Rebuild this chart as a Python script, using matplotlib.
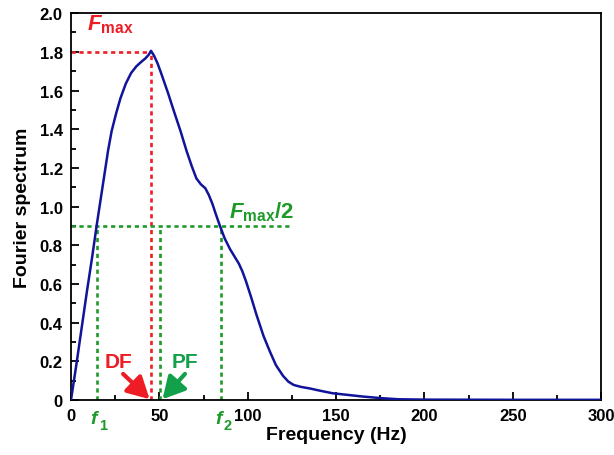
import matplotlib
matplotlib.use('Agg')
import matplotlib.pyplot as plt
from matplotlib.patches import FancyArrowPatch
from matplotlib.ticker import MultipleLocator, FuncFormatter

plt.rcParams['font.family'] = ['Liberation Sans', 'DejaVu Sans']
plt.rcParams['mathtext.fontset'] = 'custom'
plt.rcParams['mathtext.rm'] = 'Liberation Sans:weight=bold'
plt.rcParams['mathtext.it'] = 'Liberation Sans:style=italic:weight=bold'
plt.rcParams['mathtext.bf'] = 'Liberation Sans:weight=bold'

# spectrum
freq = [0, 3, 6, 9, 12, 14.5, 17, 19, 21, 23, 25.5, 28, 31, 34, 37, 40, 42,
        44, 45.3, 47, 49, 51, 55, 58, 62, 65.5, 68.5, 71, 73.5, 76, 78, 80,
        82, 84.3, 87, 90, 93, 95, 97, 99, 102, 105, 109, 112.6, 116, 120, 123,
        126, 130, 135, 141, 148, 155, 165, 175, 185, 200, 250, 300]
spec = [0, 0.18, 0.37, 0.56, 0.74, 0.90, 1.05, 1.17, 1.29, 1.39, 1.48, 1.56,
        1.635, 1.69, 1.725, 1.75, 1.765, 1.785, 1.805, 1.78, 1.74, 1.69,
        1.585, 1.50, 1.39, 1.285, 1.205, 1.145, 1.115, 1.095, 1.06, 1.015,
        0.96, 0.90, 0.835, 0.78, 0.735, 0.705, 0.665, 0.615, 0.53, 0.44,
        0.33, 0.25, 0.18, 0.125, 0.095, 0.078, 0.068, 0.06, 0.048, 0.035,
        0.028, 0.018, 0.01, 0.004, 0.002, 0.001, 0.001]

f_max = 1.8
df = 45.3      # dominant frequency
pf = 50.5      # predominant frequency
f1, f2 = 14.5, 85.0
half_end = 125

RED = '#ee1c24'
GREEN = '#1e9a28'
GREEN2 = '#12a04a'
BLUE = '#10149a'

fig = plt.figure(figsize=(6.14, 4.56), dpi=100)
ax = fig.add_axes([0.1156, 0.1206, 0.8634, 0.8484])

ax.plot(freq, spec, color=BLUE, lw=1.8, zorder=3, solid_joinstyle='round')

dash = dict(lw=1.9, linestyle=(0, (1.6, 1.4)))
ax.plot([0, df], [f_max, f_max], color=RED, **dash)
ax.plot([df, df], [0, f_max], color=RED, **dash)
ax.plot([0, half_end], [f_max / 2, f_max / 2], color=GREEN, **dash)
for xv in (f1, pf, f2):
    ax.plot([xv, xv], [0, f_max / 2], color=GREEN, **dash)

ax.text(22, 1.945, r'$\mathit{F}_{\mathrm{max}}$', color=RED, fontsize=16,
        ha='center', va='center')
ax.text(108, 0.975, r'$\mathit{F}_{\mathrm{max}}/2$', color=GREEN, fontsize=16,
        ha='center', va='center')

ax.text(27, 0.2, 'DF', color=RED, fontsize=15, fontweight='bold',
        ha='center', va='center')
ax.text(64.5, 0.2, 'PF', color=GREEN2, fontsize=15, fontweight='bold',
        ha='center', va='center')
for start, end, col in (((29.5, 0.135), (44.5, 0.004), RED),
                        ((64.5, 0.135), (51.8, 0.004), GREEN2)):
    ax.add_patch(FancyArrowPatch(start, end, color=col, lw=3,
                                 arrowstyle='-|>,head_length=1.2,head_width=0.65',
                                 mutation_scale=11, shrinkA=0, shrinkB=0, zorder=4))

ax.set_xlim(0, 300)
ax.set_ylim(0, 2.0)
ax.xaxis.set_major_locator(MultipleLocator(50))
ax.xaxis.set_minor_locator(MultipleLocator(25))
ax.yaxis.set_major_locator(MultipleLocator(0.2))
ax.yaxis.set_minor_locator(MultipleLocator(0.1))
ax.xaxis.set_major_formatter(FuncFormatter(lambda v, p: '0' if v == 0 else f'{v:.0f}'))
ax.yaxis.set_major_formatter(FuncFormatter(lambda v, p: '0' if v == 0 else f'{v:.1f}'))
ax.tick_params(which='both', direction='in', top=False, right=False, width=1.3)
ax.tick_params(which='major', length=6, labelsize=12, pad=6)
ax.tick_params(which='minor', length=3.5)
for lab in ax.get_xticklabels() + ax.get_yticklabels():
    lab.set_fontweight('bold')
for sp in ax.spines.values():
    sp.set_linewidth(1.3)

# f1 / f2 under the axis: bold italic f with a bold subscript
for xv, sub in ((f1, '1'), (f2, '2')):
    ax.annotate('f', xy=(xv, 0), xytext=(-2, -7), textcoords='offset points',
                color=GREEN, fontsize=14, fontweight='bold', fontstyle='italic',
                ha='center', va='top')
    ax.annotate(sub, xy=(xv, 0), xytext=(2, -13), textcoords='offset points',
                color=GREEN, fontsize=10.5, fontweight='bold',
                ha='left', va='top')

ax.set_xlabel('Frequency (Hz)', fontsize=14, fontweight='bold', labelpad=2)
ax.set_ylabel('Fourier spectrum', fontsize=14, fontweight='bold', labelpad=6)

fig.savefig('out.png', dpi=100)
